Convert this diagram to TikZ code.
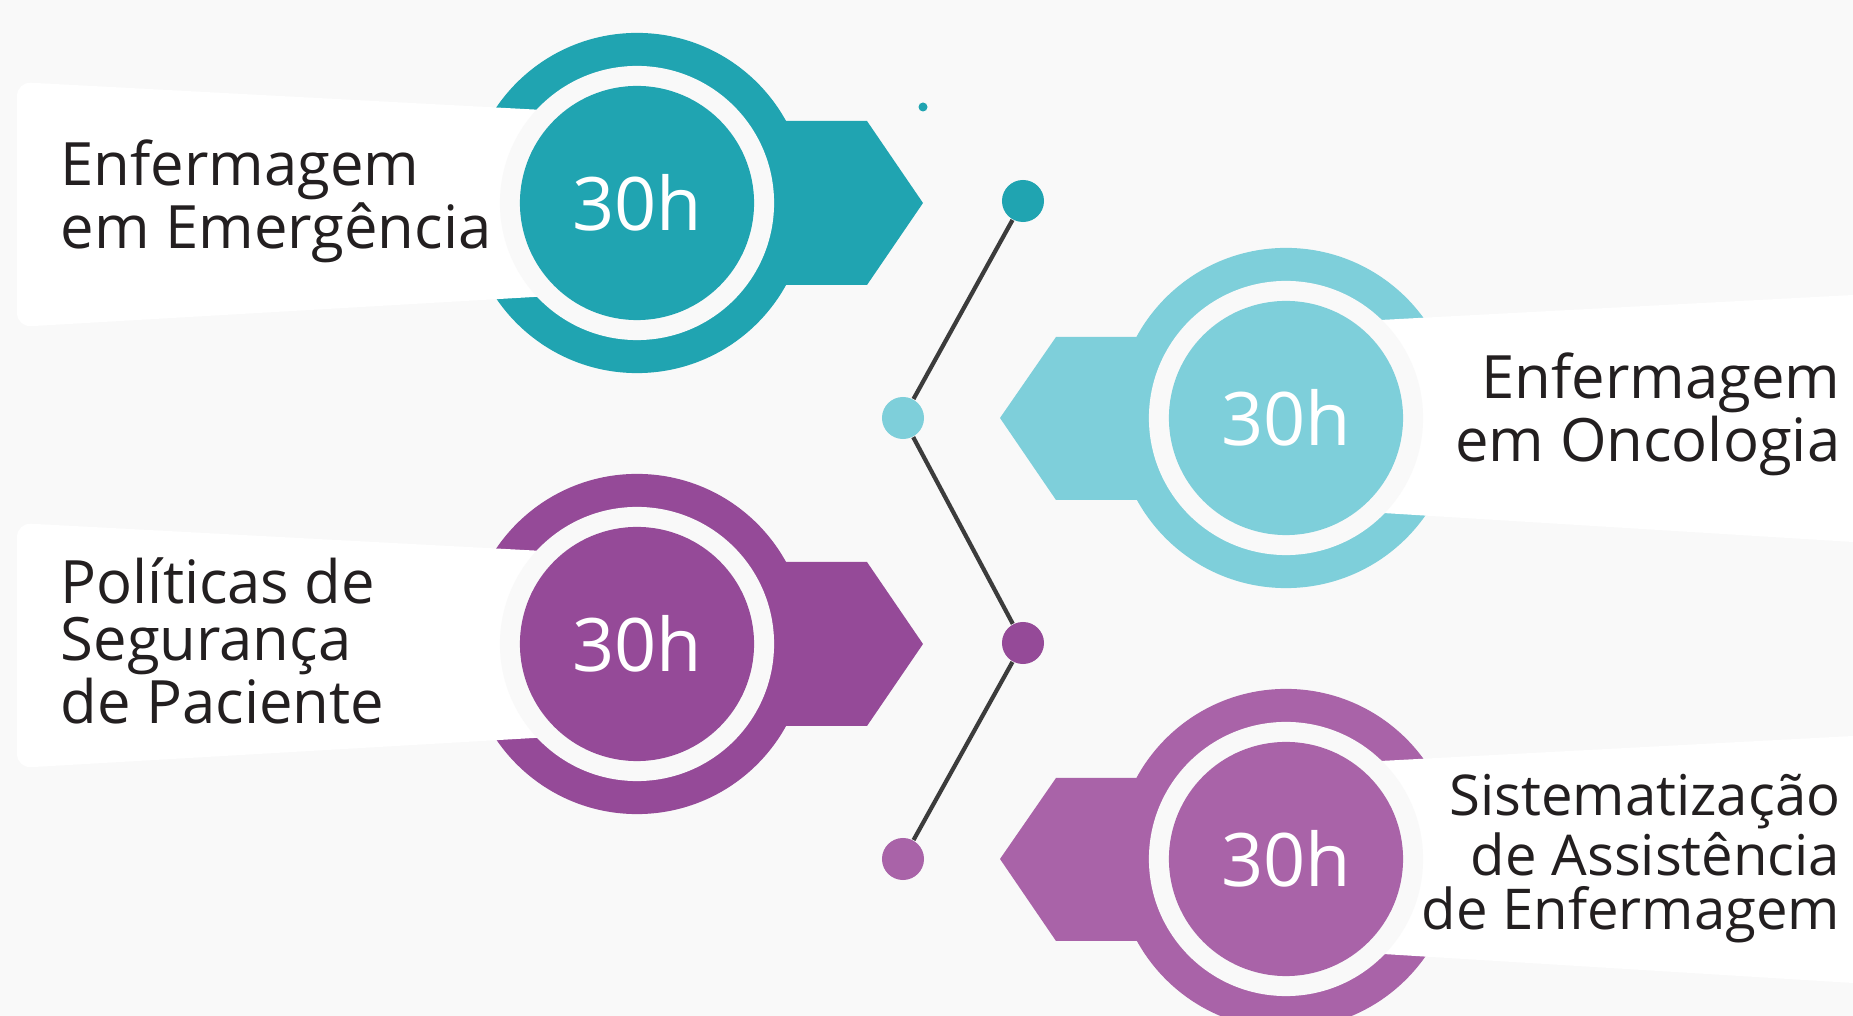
\documentclass[tikz,border=0pt]{standalone}
\usepackage{fontspec}
\setmainfont{Open Sans}
\definecolor{tealc}{HTML}{20A4B1}
\definecolor{skyc}{HTML}{7ECFDA}
\definecolor{plumc}{HTML}{954A98}
\definecolor{lilacc}{HTML}{A963A8}
\definecolor{bgc}{HTML}{F9F9F9}
\definecolor{linec}{HTML}{3C3C3C}
\definecolor{textc}{HTML}{231F20}
\begin{document}
\begin{tikzpicture}[x=0.01cm, y=-0.01cm,
    outer/.style={circle, minimum size=3.4cm, inner sep=0pt},
    gap/.style={circle, fill=bgc, minimum size=2.74cm, inner sep=0pt},
    hours/.style={circle, minimum size=2.34cm, inner sep=0pt, text=white, font=\fontsize{21pt}{21pt}\selectfont},
    dot/.style={circle, minimum size=0.42cm, inner sep=0pt},
    course/.style={text=textc, inner sep=0pt, font=\fontsize{17pt}{16.2pt}\selectfont}]
    \clip (0, 0) rectangle (1853, 1016);
    \fill[bgc] (0, 0) rectangle (1853, 1016);

    % Enfermagem em Emergencia
    \fill[tealc] (637, 121) -- (867, 121) -- (923, 203) -- (867, 285) -- (637, 285) -- cycle;
    \node[outer, fill=tealc] (o-1) at (637, 203) {};
    \fill[white, rounded corners=4pt] (637, 115) -- (17, 82) -- (17, 327) -- (637, 291) -- cycle;
    \node[gap] (g-1) at (637, 203) {};
    \node[hours, fill=tealc] (c-1) at (637, 203) {30h};
    \node[course, anchor=base west, align=left] (t-1) at (60, 249) {Enfermagem\\em Emergência};

    % Enfermagem em Oncologia
    \fill[skyc] (1286, 337) -- (1056, 337) -- (1000, 418) -- (1056, 500) -- (1286, 500) -- cycle;
    \node[outer, fill=skyc] (o-2) at (1286, 418) {};
    \fill[white] (1286, 325) -- (1853, 295) -- (1853, 542) -- (1286, 507) -- cycle;
    \node[gap] (g-2) at (1286, 418) {};
    \node[hours, fill=skyc] (c-2) at (1286, 418) {30h};
    \node[course, anchor=base east, align=right] (t-2) at (1841, 462) {Enfermagem\\em Oncologia};

    % Politicas de Seguranca de Paciente
    \fill[plumc] (637, 562) -- (867, 562) -- (923, 644) -- (867, 726) -- (637, 726) -- cycle;
    \node[outer, fill=plumc] (o-3) at (637, 644) {};
    \fill[white, rounded corners=4pt] (637, 556) -- (17, 523) -- (17, 768) -- (637, 732) -- cycle;
    \node[gap] (g-3) at (637, 644) {};
    \node[hours, fill=plumc] (c-3) at (637, 644) {30h};
    \node[course, anchor=base west, align=left] (t-3) at (60, 724) {Políticas de\\Segurança\\de Paciente};

    % Sistematizacao de Assistencia de Enfermagem
    \fill[lilacc] (1286, 778) -- (1056, 778) -- (1000, 859) -- (1056, 941) -- (1286, 941) -- cycle;
    \node[outer, fill=lilacc] (o-4) at (1286, 859) {};
    \fill[white] (1286, 766) -- (1853, 736) -- (1853, 983) -- (1286, 948) -- cycle;
    \node[gap] (g-4) at (1286, 859) {};
    \node[hours, fill=lilacc] (c-4) at (1286, 859) {30h};
    \node[course, anchor=base east, align=right, font=\fontsize{16pt}{15.4pt}\selectfont] (t-4) at (1841, 930) {Sistematização\\de Assistência\\de Enfermagem};

    % timeline
    \node[dot, fill=tealc] (d-1) at (1023, 201) {};
    \node[dot, fill=skyc] (d-2) at (903, 418) {};
    \node[dot, fill=plumc] (d-3) at (1023, 643) {};
    \node[dot, fill=lilacc] (d-4) at (903, 859) {};
    \node[dot, minimum size=0.09cm, fill=tealc] (s-1) at (923, 107) {};
    \draw[linec, line width=1.2pt] (d-1) -- (d-2) -- (d-3) -- (d-4);
\end{tikzpicture}
\end{document}
